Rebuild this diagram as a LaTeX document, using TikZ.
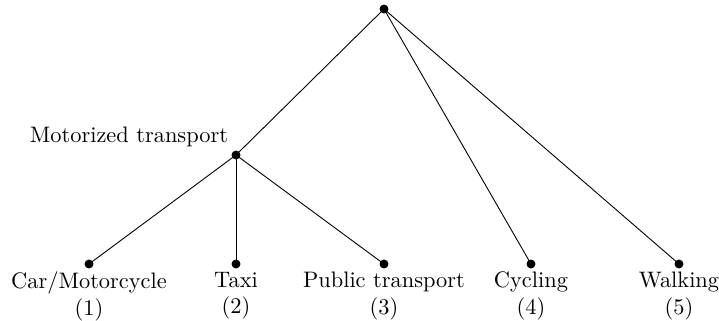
\documentclass[tikz,border=0pt]{standalone}
\begin{document}
\begin{tikzpicture}[x=0.4465pt,y=-0.4465pt,
  dot/.style={circle,fill=black,inner sep=0pt,minimum size=4pt},
  leaflabel/.style={anchor=north,align=center,inner sep=3.33pt},
  edge/.style={line width=0.4pt}]
\useasboundingbox (0,0) rectangle (719,320);
\node[dot] (root) at (384,9) {};
\node[dot] (mot) at (236,155) {};
\node[anchor=south east] (motl) at (mot.center) {Motorized transport};
\node[dot] (l1) at (89,264) {};
\node[dot] (l2) at (236,264) {};
\node[dot] (l3) at (384,264) {};
\node[dot] (l4) at (531,264) {};
\node[dot] (l5) at (679,264) {};
\node[leaflabel] (t1) at (l1.center) {Car/Motorcycle\\(1)};
\node[leaflabel] (t2) at (l2.center) {Taxi\\(2)};
\node[leaflabel] (t3) at (l3.center) {Public transport\\(3)};
\node[leaflabel] (t4) at (l4.center) {Cycling\\(4)};
\node[leaflabel] (t5) at (l5.center) {Walking\\(5)};
\draw[edge] (root.center) -- (mot.center);
\draw[edge] (root.center) -- (l4.center);
\draw[edge] (root.center) -- (l5.center);
\draw[edge] (mot.center) -- (l1.center);
\draw[edge] (mot.center) -- (l2.center);
\draw[edge] (mot.center) -- (l3.center);
\end{tikzpicture}
\end{document}
